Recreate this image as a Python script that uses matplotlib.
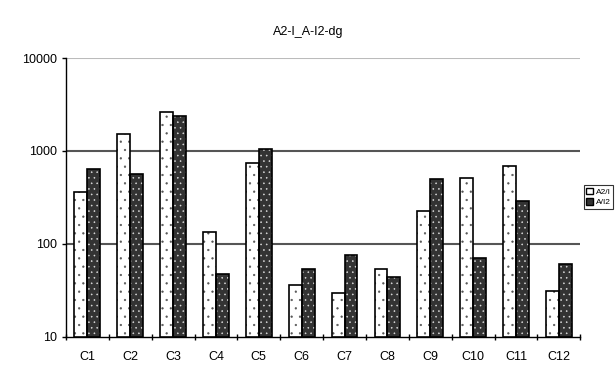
import numpy as np
import matplotlib.pyplot as plt
from matplotlib.patches import Patch

plt.rcParams['font.family'] = ['Liberation Sans', 'DejaVu Sans']
plt.rcParams['hatch.linewidth'] = 0.4

categories = ['C1', 'C2', 'C3', 'C4', 'C5', 'C6', 'C7', 'C8', 'C9', 'C10', 'C11', 'C12']
a2_i = [365, 1520, 2600, 135, 740, 36, 29.5, 53.5, 225, 510, 690, 31.5]
a_i2 = [636, 560, 2380, 47.5, 1045, 53.5, 75.5, 44, 496, 71, 290, 60.5]
series_names = ['A2/I', 'A/I2']

fig = plt.figure(figsize=(6.16, 3.65), dpi=100)
ax = fig.add_axes([0.107, 0.077, 0.835, 0.764])

x = np.arange(len(categories))
w = 0.3
base = 10
h1 = np.array(a2_i) - base
h2 = np.array(a_i2) - base

# white bars with gray dots
ax.bar(x - w / 2, h1, w, bottom=base, color='white', edgecolor='#555555',
       hatch='..', linewidth=0, zorder=3)
ax.bar(x - w / 2, h1, w, bottom=base, fill=False, edgecolor='black',
       linewidth=1.2, zorder=4)
# dark bars with light dots
ax.bar(x + w / 2, h2, w, bottom=base, color='#333333', edgecolor='#dddddd',
       hatch='...', linewidth=0, zorder=3)
ax.bar(x + w / 2, h2, w, bottom=base, fill=False, edgecolor='black',
       linewidth=1.2, zorder=4)

ax.set_yscale('log')
ax.set_ylim(10, 10000)
ax.set_xlim(-0.5, len(categories) - 0.5)
ax.set_yticks([10, 100, 1000, 10000])
ax.set_yticklabels(['10', '100', '1000', '10000'])
ax.minorticks_off()
ax.set_xticks(x)
ax.set_xticklabels(categories)
ax.set_xticks(np.arange(len(categories) + 1) - 0.5, minor=True)
ax.tick_params(axis='x', which='major', length=0, labelsize=9, pad=10)
ax.tick_params(axis='x', which='minor', length=5, direction='inout', width=1)
ax.tick_params(axis='y', length=3, width=1, labelsize=9, direction='out')

for v in [100, 1000]:
    ax.axhline(v, color='#555555', linewidth=1.5, zorder=1)
ax.axhline(10000, color='#bbbbbb', linewidth=1.5, zorder=1)

for s in ['top', 'right']:
    ax.spines[s].set_visible(False)
ax.spines['left'].set_linewidth(1)
ax.spines['bottom'].set_linewidth(1)

fig.text(0.5, 0.905, 'A2-I_A-I2-dg', ha='center', fontsize=9)

handles = [Patch(facecolor='white', edgecolor='black', linewidth=1),
           Patch(facecolor='#333333', edgecolor='black', linewidth=1)]
leg = fig.legend(handles, series_names, loc='center left',
                 bbox_to_anchor=(0.948, 0.46), fontsize=6, frameon=True,
                 fancybox=False, edgecolor='black', handlelength=0.8,
                 handleheight=0.8, handletextpad=0.3, borderpad=0.3,
                 labelspacing=0.3, borderaxespad=0)
leg.get_frame().set_linewidth(0.8)

fig.savefig('out.png', dpi=100)
